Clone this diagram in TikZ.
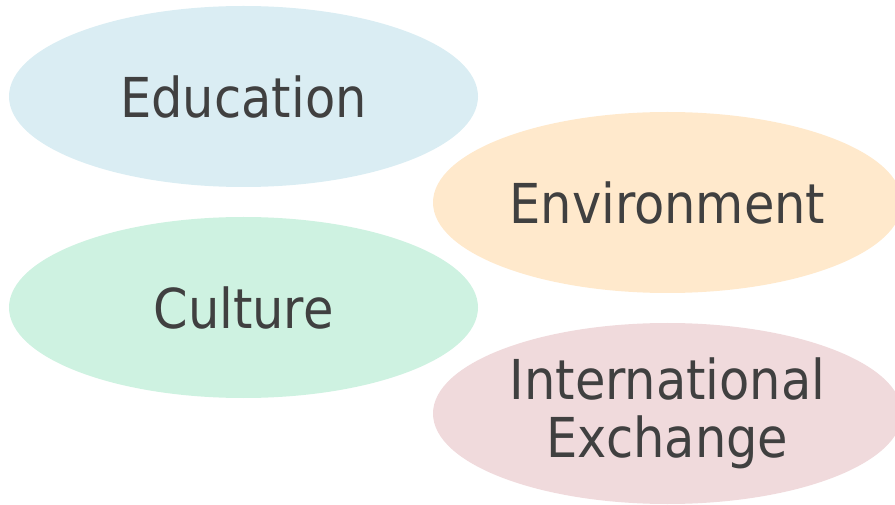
\documentclass[tikz,border=0pt]{standalone}
\usepackage{fontspec}
\setmainfont{DejaVu Sans Condensed}
\usetikzlibrary{shapes.geometric}
\definecolor{edublue}{RGB}{218,237,243}
\definecolor{envorange}{RGB}{255,233,204}
\definecolor{culgreen}{RGB}{206,242,225}
\definecolor{intpink}{RGB}{240,218,220}
\definecolor{labelgray}{RGB}{64,64,64}
\tikzset{
  bubble/.style={ellipse, inner sep=0pt, minimum width=469pt, minimum height=181pt,
    text=labelgray, align=center, font=\fontsize{55}{58}\selectfont}
}
\begin{document}
\begin{tikzpicture}[x=1pt, y=-1pt]
    % Page frame, the right bubbles run off the edge
    \useasboundingbox (0,0) rectangle (895,505);
    \clip (0,0) rectangle (895,505);

    % Left column
    \node[bubble, fill=edublue] (education) at (243.5,96.5) {Education};
    \node[bubble, fill=culgreen] (culture) at (243.5,307.5) {Culture};

    % Right column
    \node[bubble, fill=envorange] (environment) at (667.5,202.5) {Environment};
    \node[bubble, fill=intpink] (exchange) at (667.5,413.5) {International\\Exchange};
\end{tikzpicture}
\end{document}
